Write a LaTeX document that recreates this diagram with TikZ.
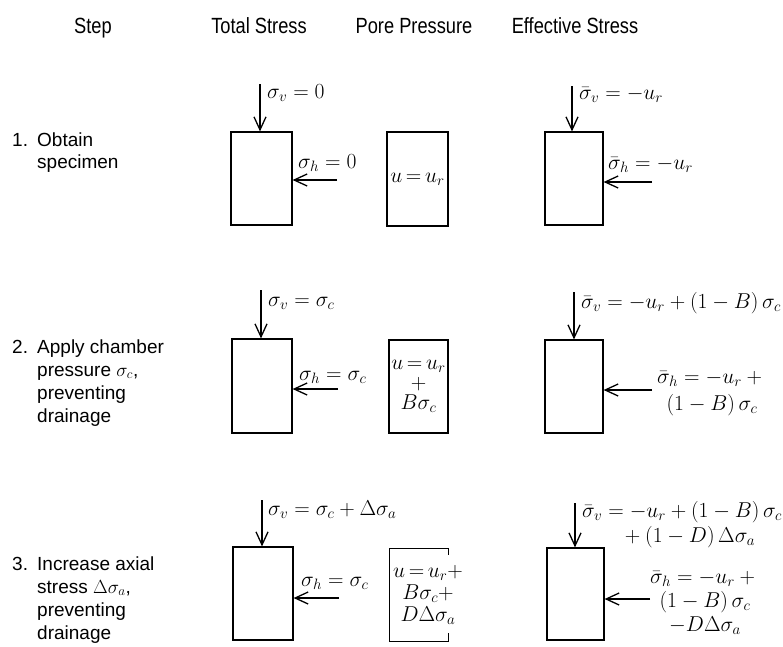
\RequirePackage{fix-cm}
\documentclass[tikz,border=0pt]{standalone}
\usepackage{fontspec}
\setmainfont{Liberation Sans}
\newfontfamily\hdrfont[FakeStretch=0.83]{Liberation Sans}
\usetikzlibrary{arrows.meta}
\begin{document}
\begin{tikzpicture}[x=1pt,y=-1pt,
  box/.style={draw, line width=1.2pt, inner sep=0pt},
  force/.style={line width=1.3pt, -{Straight Barb[length=13pt,width=12pt]}},
  hdr/.style={font=\hdrfont\fontsize{22}{26}\selectfont, inner sep=0pt, anchor=base},
  steptxt/.style={font=\fontsize{19}{23}\selectfont, inner sep=0pt, anchor=base west},
  lab/.style={font=\fontsize{21.5}{24}\selectfont, inner sep=0pt, anchor=west},
  labc/.style={font=\fontsize{21.5}{#1}\selectfont, inner sep=0pt, align=center}]
\useasboundingbox (0,0) rectangle (783,646);
% headers
\node[hdr] (hstep) at (93,33) {Step};
\node[hdr] (htot) at (259,33) {Total Stress};
\node[hdr] (hpore) at (414,33) {Pore Pressure};
\node[hdr] (heff) at (575,33) {Effective Stress};
% step texts
\node[steptxt] (n1) at (12,146) {1.};
\node[steptxt] (s1a) at (37,146) {Obtain};
\node[steptxt] (s1b) at (37,168) {specimen};
\node[steptxt] (n2) at (12,353) {2.};
\node[steptxt] (s2a) at (37,353) {Apply chamber};
\node[steptxt] (s2b) at (37,376) {pressure $\sigma_c$,};
\node[steptxt] (s2c) at (37,399) {preventing};
\node[steptxt] (s2d) at (37,422) {drainage};
\node[steptxt] (n3) at (12,570) {3.};
\node[steptxt] (s3a) at (37,570) {Increase axial};
\node[steptxt] (s3b) at (37,593) {stress $\Delta\sigma_a$,};
\node[steptxt] (s3c) at (37,616) {preventing};
\node[steptxt] (s3d) at (37,639) {drainage};
% total stress boxes
\node[box, minimum width=61pt, minimum height=93pt] (t1) at (261.5,178.5) {};
\node[box, minimum width=60pt, minimum height=94pt] (t2) at (262,386) {};
\node[box, minimum width=60pt, minimum height=93pt] (t3) at (263,593.5) {};
\coordinate (tv1) at (260,84);
\coordinate (tv2) at (261,290);
\coordinate (tv3) at (262,500);
\draw[force] (tv1) -- (tv1 |- t1.north);
\draw[force] (tv2) -- (tv2 |- t2.north);
\draw[force] (tv3) -- (tv3 |- t3.north);
\node[lab] (tvl1) at (267,93) {$\sigma_v = 0$};
\node[lab] (tvl2) at (268,303) {$\sigma_v = \sigma_c$};
\node[lab] (tvl3) at (268,510) {$\sigma_v = \sigma_c + \Delta\sigma_a$};
\coordinate (th1) at (337,180);
\coordinate (th2) at (338,389);
\coordinate (th3) at (339,598);
\draw[force] (th1) -- (th1 -| t1.east);
\draw[force] (th2) -- (th2 -| t2.east);
\draw[force] (th3) -- (th3 -| t3.east);
\node[lab] (thl1) at (298,163) {$\sigma_h = 0$};
\node[lab] (thl2) at (299,377) {$\sigma_h = \sigma_c$};
\node[lab] (thl3) at (301,583) {$\sigma_h = \sigma_c$};
% pore pressure
\node[box, minimum width=61pt, minimum height=94pt, font=\fontsize{21.5}{24}\selectfont] (p1) at (417.5,179) {$u\,{=}\,u_r$};
\node[box, minimum width=59pt, minimum height=93pt, align=center, font=\fontsize{21.5}{20}\selectfont] (p2) at (418.5,386.5) {$u\,{=}\,u_r$\\$+$\\$B\sigma_c$};
\node[inner sep=0pt, minimum width=58pt, minimum height=92pt] (p3) at (419,595) {};
\draw[line width=1.2pt] ([yshift=-6pt]p3.north east) -- (p3.north east) -- (p3.north west) -- (p3.south west) -- (p3.south east) -- ([yshift=8pt]p3.south east);
\node[labc=22] (p3t) at (428,595) {$u\,{=}\,u_r{+}$\\$B\sigma_c{+}$\\$D\Delta\sigma_a$};
% effective stress
\node[box, minimum width=58pt, minimum height=93pt] (e1) at (574,178.5) {};
\node[box, minimum width=58pt, minimum height=93pt] (e2) at (574,386.5) {};
\node[box, minimum width=57pt, minimum height=92pt] (e3) at (575.5,594) {};
\coordinate (ev1) at (572,86);
\coordinate (ev2) at (574,292);
\coordinate (ev3) at (575,503);
\draw[force] (ev1) -- (ev1 |- e1.north);
\draw[force] (ev2) -- (ev2 |- e2.north);
\draw[force] (ev3) -- (ev3 |- e3.north);
\node[lab] (evl1) at (579,95) {$\bar\sigma_v = -u_r$};
\node[lab] (evl2) at (581,303) {$\bar\sigma_v = -u_r + (1 - B)\,\sigma_c$};
\node[lab] (evl3a) at (582,512) {$\bar\sigma_v = -u_r + (1 - B)\,\sigma_c$};
\node[lab] (evl3b) at (620,537) {${}+(1 - D)\,\Delta\sigma_a$};
\coordinate (eh1) at (652,182);
\coordinate (eh2) at (652,390);
\coordinate (eh3) at (650,599);
\draw[force] (eh1) -- (eh1 -| e1.east);
\draw[force] (eh2) -- (eh2 -| e2.east);
\draw[force] (eh3) -- (eh3 -| e3.east);
\node[lab] (ehl1) at (608,165) {$\bar\sigma_h = -u_r$};
\node[labc=27] (ehl2) at (712,393) {$\bar\sigma_h = -u_r +{}$\\$(1 - B)\,\sigma_c$};
\node[labc=24] (ehl3) at (705,603) {$\bar\sigma_h = -u_r +{}$\\$(1 - B)\,\sigma_c$\\$-D\Delta\sigma_a$};
\end{tikzpicture}
\end{document}
